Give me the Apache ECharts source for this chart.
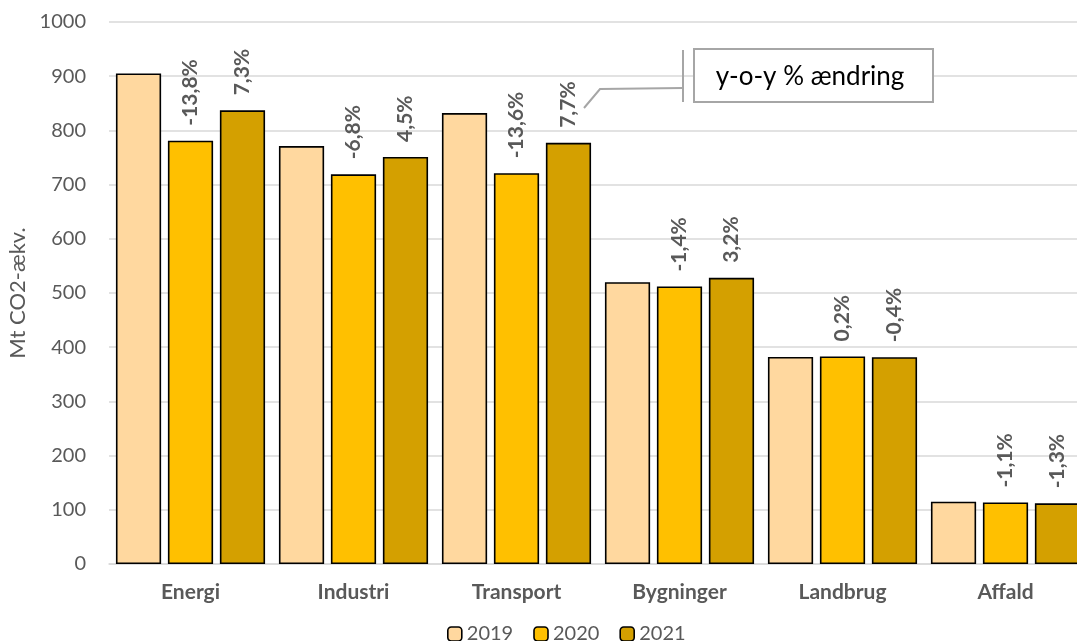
<!DOCTYPE html>
<html><head><meta charset="utf-8">
<script src="https://cdn.jsdelivr.net/npm/echarts@6/dist/echarts.min.js"></script>
<style>html,body{margin:0;padding:0;background:#fff}#c{width:1077px;height:641px}</style>
</head><body><div id="c"></div>
<script>
const categories = ['Energi','Industri','Transport','Bygninger','Landbrug','Affald'];
const years = ['2019','2020','2021'];
const v2019 = [905, 771, 832, 520, 382, 115];
const v2020 = [781, 719, 721, 512, 383, 113.5];
const v2021 = [837, 751, 777, 528, 381.5, 112];
const pct2020 = ['-13,8%','-6,8%','-13,6%','-1,4%','0,2%','-1,1%'];
const pct2021 = ['7,3%','4,5%','7,7%','3,2%','-0,4%','-1,3%'];
const yTicks = [0,100,200,300,400,500,600,700,800,900,1000];
const colors = ['#FFD89F','#FFC000','#D4A000'];
const FONT = 'Lato, "Noto Sans", sans-serif';
const gray = '#595959';

function mkLabel(arr){
  return {
    show: !!arr, position: 'top', rotate: 90, align: 'left', verticalAlign: 'middle',
    distance: 15, fontFamily: FONT, fontWeight: 'bold', fontSize: 21, color: gray,
    formatter: p => arr ? arr[p.dataIndex] : ''
  };
}
const seriesVals = [v2019, v2020, v2021];
const labels = [null, pct2020, pct2021];
const chart = echarts.init(document.getElementById('c'));
chart.setOption({
  animation: false,
  textStyle: {fontFamily: FONT},
  grid: {left: 109, top: 22, width: 978, height: 542, containLabel: false, outerBoundsMode: 'none'},
  legend: {
    top: 624, left: 447, padding: 0, itemWidth: 14, itemHeight: 14, itemGap: 20,
    textStyle: {fontFamily: FONT, fontSize: 20, color: gray},
    itemStyle: {borderColor: '#000', borderWidth: 1.6},
    data: years
  },
  xAxis: {
    type: 'category', data: categories,
    axisLine: {lineStyle: {color: '#d9d9d9', width: 1.5}},
    axisTick: {show: false},
    axisLabel: {fontFamily: FONT, fontWeight: 'bold', fontSize: 21, color: gray, margin: 18}
  },
  yAxis: {
    type: 'value', min: yTicks[0], max: yTicks[yTicks.length-1], interval: 100,
    name: 'Mt CO2-ækv.', nameLocation: 'middle', nameGap: 77, nameRotate: 90,
    nameTextStyle: {fontFamily: FONT, fontSize: 22, color: gray},
    axisLine: {show: false}, axisTick: {show: false},
    axisLabel: {fontFamily: FONT, fontSize: 20, color: gray, margin: 23, formatter: v => String(v)},
    splitLine: {lineStyle: {color: '#d9d9d9', width: 1.5}}
  },
  series: years.map((y, i) => ({
    name: y, type: 'bar', data: seriesVals[i],
    barGap: '15%', barCategoryGap: '8.5%',
    itemStyle: {color: colors[i], borderColor: '#000', borderWidth: 1.6},
    label: mkLabel(labels[i])
  })),
  graphic: [
    {type: 'polyline', z: 100, shape: {points: [[584,108],[600,89],[683,88]]}, style: {stroke: '#a6a6a6', lineWidth: 2, fill: null}},
    {type: 'line', z: 100, shape: {x1: 683, y1: 50, x2: 683, y2: 102}, style: {stroke: '#a6a6a6', lineWidth: 2}},
    {type: 'rect', z: 100, shape: {x: 694, y: 49, width: 239, height: 53}, style: {fill: '#fff', stroke: '#a6a6a6', lineWidth: 2}},
    {type: 'text', z: 101, style: {x: 810, y: 77, text: 'y-o-y % ændring', fontFamily: FONT, fontSize: 26, fill: '#000', align: 'center', verticalAlign: 'middle'}}
  ]
});
</script></body></html>
